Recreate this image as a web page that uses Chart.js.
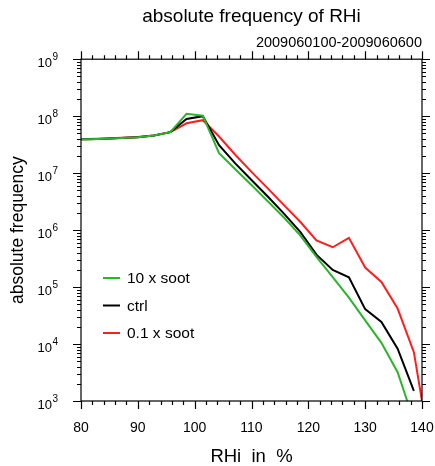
<!DOCTYPE html>
<html>
<head>
<meta charset="utf-8">
<script src="https://cdn.jsdelivr.net/npm/chart.js@4.4.0/dist/chart.umd.min.js"></script>
<style>
  html, body { margin: 0; padding: 0; background: #fff; }
</style>
</head>
<body>
<canvas id="myChart" width="435" height="466"></canvas>
<script>
// RHi bin centres (%), the first and last fall just outside the plotted range
var rhi = [78.57, 81.43, 84.29, 87.14, 90.0, 92.86, 95.71, 98.57, 101.43, 104.29, 107.14,
  110.0, 112.86, 115.71, 118.57, 121.43, 124.29, 127.14, 130.0, 132.86, 135.71, 138.57, 141.43];

var soot10 = [3.89e7, 3.94e7, 4.03e7, 4.12e7, 4.27e7, 4.57e7, 5.25e7, 1.10e8, 1.02e8, 2.24e7, 1.17e7,
  6.2e6, 3.2e6, 1.66e6, 8.1e5, 3.4e5, 1.5e5, 6.5e4, 2.6e4, 1.05e4, 3.2e3, 450, null];
var ctrl = [3.89e7, 3.94e7, 4.03e7, 4.12e7, 4.27e7, 4.57e7, 5.25e7, 8.9e7, 1.0e8, 3.1e7, 1.48e7,
  7.6e6, 3.9e6, 1.95e6, 9.3e5, 3.7e5, 2.0e5, 1.48e5, 4.1e4, 2.45e4, 8.3e3, 1.5e3, null];
var soot01 = [3.92e7, 3.97e7, 4.06e7, 4.16e7, 4.3e7, 4.6e7, 5.25e7, 7.5e7, 8.5e7, 4.4e7, 2.1e7,
  1.05e7, 5.4e6, 2.75e6, 1.4e6, 6.6e5, 5.0e5, 7.3e5, 2.2e5, 1.23e5, 4.2e4, 7.2e3, 140];

var seriesNames = ["10 x soot", "ctrl", "0.1 x soot"];
var seriesColors = ["#2bb52b", "#000000", "#ff1e1e"];

var xTicks = [80, 90, 100, 110, 120, 130, 140];
var yExponents = [3, 4, 5, 6, 7, 8, 9];

var FONT = "'Liberation Sans', Arial, Helvetica, sans-serif";

function toPoints(arr) {
  return rhi.map(function (x, i) { return { x: x, y: arr[i] }; });
}

// box, outward tick marks, y labels with exponents and the inside legend
var framePlugin = {
  id: "frame",
  afterDraw: function (chart) {
    var ctx = chart.ctx, a = chart.chartArea;
    var xs = chart.scales.x, ys = chart.scales.y;
    ctx.save();
    ctx.strokeStyle = "#000";
    ctx.lineWidth = 1.2;
    ctx.strokeRect(a.left, a.top, a.right - a.left, a.bottom - a.top);

    ctx.beginPath();
    for (var v = xTicks[0]; v <= xTicks[xTicks.length - 1]; v += 2) {
      var px = Math.round(xs.getPixelForValue(v)) + 0.5;
      var len = v % 10 === 0 ? 8 : 4;
      ctx.moveTo(px, a.bottom); ctx.lineTo(px, a.bottom + len);
      ctx.moveTo(px, a.top); ctx.lineTo(px, a.top - len);
    }
    var e0 = yExponents[0], e1 = yExponents[yExponents.length - 1];
    for (var e = e0; e <= e1; e++) {
      for (var m = 1; m < 10; m++) {
        if (e === e1 && m > 1) break;
        var py = Math.round(ys.getPixelForValue(m * Math.pow(10, e))) + 0.5;
        var l = m === 1 ? 8 : 4;
        ctx.moveTo(a.left, py); ctx.lineTo(a.left - l, py);
        ctx.moveTo(a.right, py); ctx.lineTo(a.right + l, py);
      }
    }
    ctx.stroke();

    // y tick labels 10^n
    ctx.fillStyle = "#000";
    ctx.textBaseline = "alphabetic";
    yExponents.forEach(function (n) {
      var py = ys.getPixelForValue(Math.pow(10, n));
      ctx.font = "10px " + FONT;
      var ew = ctx.measureText(String(n)).width;
      ctx.textAlign = "right";
      ctx.fillText(String(n), 58, py + 0.5);
      ctx.font = "13px " + FONT;
      ctx.fillText("10", 58 - ew - 0.5, py + 7.5);
    });

    // legend
    ctx.font = "15.5px " + FONT;
    ctx.textAlign = "left";
    ctx.textBaseline = "middle";
    chart.data.datasets.forEach(function (ds, i) {
      var ly = 278 + i * 27.5;
      ctx.strokeStyle = ds.borderColor;
      ctx.lineWidth = 2;
      ctx.beginPath();
      ctx.moveTo(103, ly); ctx.lineTo(120, ly);
      ctx.stroke();
      ctx.fillText(ds.label, 127, ly + 1);
    });
    ctx.restore();
  }
};

new Chart("myChart", {
  type: "line",
  data: {
    datasets: [
      { label: seriesNames[0], data: toPoints(soot10), borderColor: seriesColors[0] },
      { label: seriesNames[1], data: toPoints(ctrl), borderColor: seriesColors[1] },
      { label: seriesNames[2], data: toPoints(soot01), borderColor: seriesColors[2] },
    ],
  },
  options: {
    responsive: false,
    animation: false,
    layout: { padding: { left: 0, right: 13, top: 0, bottom: 0 } },
    elements: {
      point: { radius: 0 },
      line: { borderWidth: 2, tension: 0, fill: false },
    },
    plugins: {
      legend: { display: false },
      tooltip: { enabled: false },
      title: {
        display: true,
        fullSize: false,
        text: "absolute frequency of RHi",
        color: "#000",
        font: { family: FONT, size: 19, weight: "normal" },
        padding: { top: 5, bottom: 6 },
      },
      subtitle: {
        display: true,
        fullSize: false,
        text: "2009060100-2009060600",
        align: "end",
        color: "#000",
        font: { family: FONT, size: 14.5, weight: "normal" },
        padding: { top: 0, bottom: 8 },
      },
    },
    scales: {
      x: {
        type: "linear",
        min: 80,
        max: 140,
        grid: { display: false, drawTicks: false },
        border: { display: false },
        ticks: {
          stepSize: 10,
          padding: 19,
          color: "#000",
          font: { family: FONT, size: 14 },
        },
        title: {
          display: true,
          text: "RHi  in  %",
          color: "#000",
          font: { family: FONT, size: 18.5, lineHeight: 1 },
          padding: { top: 6, bottom: 0 },
        },
        afterFit: function (s) {
          s.height = 65;
          s.paddingLeft = 0;
          s.paddingRight = 0;
        },
      },
      y: {
        type: "logarithmic",
        min: 1e3,
        max: 1e9,
        grid: { display: false, drawTicks: false },
        border: { display: false },
        ticks: { display: false },
        title: {
          display: true,
          text: "absolute frequency",
          color: "#000",
          font: { family: FONT, size: 17.5 },
          padding: { top: 8, bottom: 0 },
        },
        afterFit: function (s) { s.width = 81; },
      },
    },
  },
  plugins: [framePlugin],
});
</script>
</body>
</html>
